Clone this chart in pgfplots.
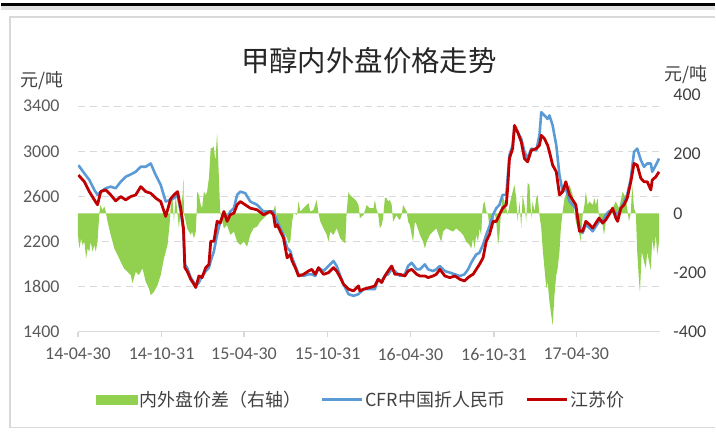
\documentclass[border=0pt]{standalone}
\usepackage{fontspec}
\setmainfont{Carlito}
\newfontfamily\cjk{Noto Sans CJK SC}
\usepackage{pgfplots}
\pgfplotsset{compat=1.18}
\definecolor{spreadgreen}{HTML}{92D050}
\definecolor{cfrblue}{HTML}{5B9BD5}
\definecolor{jsred}{HTML}{C00000}
\definecolor{gridgray}{HTML}{D9D9D9}
\definecolor{ticktext}{HTML}{595959}
\definecolor{darktext}{HTML}{404040}

% x = days since 2014-04-30
\pgfplotsset{
  set layers,
  baseaxis/.style={
    scale only axis, width=584pt, height=237.4pt,
    at={(77pt,-332.7pt)}, anchor=south west,
    xmin=0, xmax=1280,
    /pgf/number format/assume math mode=true,
    /pgf/number format/1000 sep={},
  },
}

\begin{document}
\begin{tikzpicture}[x=1pt,y=1pt]
\path (0,0) rectangle (716,-434);
\fill[black!12] (0,-6) rectangle (716,-10);
\draw[black, line width=2.5pt] (0,-4.5) -- (716,-4.5);
\draw[gridgray, line width=1.5pt] (716,-17) -- (9,-17) -- (9,-429) -- (716,-429);

% right axis: spread
\begin{axis}[baseaxis,
  ymin=-400, ymax=400, ytick={-400,-200,0,200,400},
  hide x axis, axis y line*=right,
  y axis line style={draw=none}, ytick style={draw=none},
  yticklabel style={font=\fontsize{18}{18}\selectfont, text=darktext, xshift=10pt},
]
\addplot[fill=spreadgreen, draw=none] coordinates {
(0,0)(0,-73)(3,-119)(7,-85)(10,-107)(14,-96)(18,-153)(21,-119)(25,-130)(28,-96)(32,-130)(36,-107)(39,-130)(43,-96)(47,0)(49,28)(54,11)(58,23)(61,6)(65,-28)(72,-73)(80,-119)(87,-141)(94,-164)(101,-186)(109,-198)(116,-209)(120,-237)(127,-198)(134,-209)(142,-186)(149,-232)(156,-254)(160,-277)(167,-266)(175,-243)(182,-209)(189,-153)(197,-107)(202,-28)(204,28)(208,51)(211,-28)(215,62)(219,-6)(222,-51)(226,17)(230,62)(232,119)(233,0)(237,-28)(240,-51)(244,-62)(248,-73)(251,-62)(255,-85)(259,-62)(261,0)(262,73)(266,62)(270,28)(273,17)(277,73)(281,62)(284,73)(288,119)(292,220)(295,220)(299,226)(302,175)(306,271)(310,119)(313,0)(321,-51)(328,-40)(335,-73)(343,-62)(350,-96)(357,-107)(365,-96)(372,-113)(379,-73)(386,-51)(394,-45)(401,-28)(408,-17)(416,-6)(423,0)(430,11)(434,28)(438,-28)(445,-51)(452,-62)(460,-85)(463,-102)(467,-96)(471,-28)(474,0)(482,-6)(485,40)(489,6)(496,17)(503,28)(507,34)(511,6)(518,11)(525,45)(529,0)(533,-28)(540,-51)(547,-73)(551,-96)(555,-62)(562,-73)(569,-51)(577,-85)(584,-96)(588,-102)(591,6)(595,73)(598,62)(606,51)(613,40)(617,28)(620,-17)(624,-11)(628,-6)(635,28)(642,17)(650,17)(653,45)(657,11)(660,0)(664,-51)(668,-40)(671,-17)(675,51)(679,51)(682,40)(686,45)(690,28)(693,-28)(697,-17)(701,-6)(704,-17)(708,-23)(712,-6)(715,28)(719,17)(723,6)(726,-28)(730,-40)(734,-73)(737,-96)(741,-28)(745,-40)(752,-73)(759,-96)(763,-119)(767,-96)(774,-73)(781,-62)(788,-51)(796,-85)(799,-96)(803,-62)(810,-51)(818,-57)(825,-62)(832,-51)(840,-62)(847,-73)(854,-96)(861,-107)(865,-119)(869,-85)(872,-119)(876,-73)(880,-96)(883,-51)(887,-73)(889,0)(891,28)(894,40)(898,6)(902,-6)(905,-51)(913,-40)(916,6)(920,-28)(924,-107)(927,-73)(931,17)(934,62)(938,40)(942,17)(945,-6)(949,28)(956,73)(960,96)(964,51)(967,-28)(971,40)(975,-51)(978,62)(982,28)(986,-28)(989,102)(993,96)(997,-17)(1000,40)(1004,6)(1008,51)(1011,62)(1015,-6)(1019,-51)(1022,-119)(1026,-186)(1030,-254)(1033,-232)(1037,-300)(1041,-345)(1044,-379)(1048,-277)(1052,-209)(1055,-186)(1059,-130)(1062,-51)(1066,6)(1070,51)(1073,62)(1081,96)(1088,62)(1092,0)(1095,-28)(1103,-73)(1106,-96)(1110,-6)(1114,28)(1117,73)(1121,28)(1125,40)(1132,28)(1136,51)(1139,28)(1143,51)(1146,-17)(1154,-40)(1157,-73)(1161,-28)(1168,-6)(1176,17)(1183,40)(1190,17)(1198,73)(1205,51)(1208,17)(1212,-28)(1216,6)(1219,96)(1223,17)(1227,0)(1230,-130)(1234,-232)(1236,-266)(1240,-130)(1245,-164)(1249,-186)(1252,-130)(1256,-164)(1260,-192)(1263,-85)(1267,-130)(1271,-73)(1274,-141)(1278,-96)(1278,0)
};
\end{axis}

% left axis: prices
\begin{axis}[baseaxis,
  ymin=1400, ymax=3500, ytick={1400,1800,2200,2600,3000,3400},
  axis x line*=bottom, axis y line*=left,
  y axis line style={draw=none}, ytick style={draw=none},
  x axis line style={draw=gridgray, line width=1.3pt, -},
  xtick={0,184,365,549,731,915,1096},
  xticklabels={14-04-30,14-10-31,15-04-30,15-10-31,16-04-30,16-10-31,17-04-30},
  xtick style={draw=gridgray, line width=1.2pt},
  tick align=outside, major tick length=5pt,
  ymajorgrids, grid style={gridgray, line width=1.3pt, dash pattern=on 7pt off 5pt},
  yticklabel style={font=\fontsize{18}{18}\selectfont, text=ticktext, xshift=-10pt},
  xticklabel style={font=\fontsize{18}{18}\selectfont, text=ticktext, yshift=-8pt},
  legend columns=3,
  legend style={at={(axis description cs:0.487,-0.288)}, anchor=center,
    draw=none, fill=none, font=\cjk\fontsize{18}{18}\selectfont, text=darktext,
    /tikz/every even column/.append style={column sep=18pt}},
  legend image code/.code={\draw[#1] (0pt,0pt) -- (40pt,0pt);},
]
\addlegendimage{legend image code/.code={\fill[spreadgreen] (0pt,-4.5pt) rectangle (41pt,4.5pt);}}
\addlegendentry{内外盘价差（右轴）}
\addplot[cfrblue, line width=2.6pt, line join=round] coordinates {
(1,2877)(14,2804)(25,2745)(36,2657)(43,2613)(50,2642)(61,2672)(72,2686)(83,2672)(94,2730)(105,2774)(116,2795)(127,2818)(138,2863)(149,2863)(160,2892)(171,2789)(182,2701)(193,2554)(204,2569)(211,2584)(219,2613)(226,2466)(232,2290)(235,1996)(240,1967)(248,1879)(255,1835)(259,1805)(266,1835)(273,1893)(281,1937)(288,1967)(292,2026)(299,2114)(306,2260)(313,2378)(321,2451)(328,2407)(335,2466)(343,2495)(350,2613)(357,2642)(368,2628)(379,2554)(394,2525)(408,2466)(423,2466)(430,2466)(438,2378)(445,2319)(452,2260)(460,2143)(467,2114)(471,2055)(478,1982)(485,1908)(496,1893)(507,1908)(514,1908)(522,1893)(529,1967)(540,1937)(551,1982)(562,2026)(569,1982)(577,1893)(584,1820)(595,1732)(606,1717)(617,1732)(628,1776)(642,1776)(653,1776)(660,1864)(668,1849)(675,1893)(682,1908)(690,1952)(697,1937)(708,1893)(719,1908)(726,1982)(734,2011)(745,1952)(752,1952)(763,1996)(770,1952)(781,1937)(788,1952)(796,1982)(807,1937)(818,1923)(829,1908)(840,1893)(850,1908)(858,1952)(865,2011)(869,2040)(876,2084)(883,2099)(891,2172)(898,2260)(905,2334)(913,2437)(920,2495)(927,2525)(934,2613)(942,2613)(949,2965)(956,3053)(960,3200)(967,3171)(975,3112)(982,2995)(989,2936)(997,3024)(1008,3009)(1015,3142)(1019,3347)(1026,3318)(1033,3288)(1037,3318)(1044,3230)(1052,3053)(1059,2789)(1066,2642)(1073,2672)(1081,2554)(1088,2525)(1095,2495)(1103,2319)(1110,2275)(1117,2349)(1125,2319)(1132,2290)(1139,2334)(1146,2378)(1154,2378)(1161,2437)(1168,2466)(1176,2481)(1183,2451)(1187,2422)(1194,2495)(1201,2554)(1208,2613)(1216,2760)(1223,2995)(1230,3024)(1238,2921)(1245,2862)(1252,2892)(1260,2892)(1263,2818)(1271,2877)(1278,2936)
};
\addlegendentry{CFR中国折人民币\hspace{9pt}}
\addplot[jsred, line width=2.8pt, line join=round] coordinates {
(1,2789)(14,2730)(25,2642)(36,2569)(43,2525)(50,2642)(61,2657)(72,2613)(83,2560)(94,2598)(105,2569)(116,2598)(127,2613)(138,2686)(149,2642)(160,2628)(171,2584)(182,2554)(193,2422)(204,2580)(211,2613)(219,2642)(226,2495)(232,2319)(235,1967)(240,1937)(248,1864)(255,1820)(259,1791)(266,1893)(273,1879)(281,1967)(288,1996)(292,2202)(299,2202)(306,2378)(313,2363)(321,2466)(328,2378)(335,2437)(343,2451)(350,2525)(357,2554)(368,2525)(379,2495)(394,2481)(408,2437)(423,2466)(430,2437)(434,2330)(438,2349)(445,2290)(452,2231)(460,2055)(467,2084)(471,2026)(478,1967)(485,1893)(496,1908)(507,1937)(514,1952)(522,1908)(529,1967)(540,1908)(551,1923)(562,1967)(569,1937)(577,1879)(584,1820)(595,1776)(606,1761)(617,1805)(620,1761)(628,1776)(642,1791)(653,1805)(660,1864)(668,1835)(675,1893)(682,1937)(690,1982)(697,1908)(708,1908)(719,1893)(726,1937)(734,1952)(745,1908)(752,1893)(763,1893)(770,1879)(781,1893)(788,1908)(796,1952)(807,1893)(818,1879)(829,1893)(840,1864)(850,1849)(858,1879)(865,1900)(869,1908)(876,1952)(883,1996)(891,2055)(898,2202)(905,2260)(913,2378)(920,2378)(927,2437)(934,2495)(942,2525)(945,2672)(949,2936)(956,3024)(960,3230)(967,3171)(975,3083)(982,2936)(989,2907)(997,3009)(1008,3024)(1015,3053)(1019,3142)(1026,3112)(1033,3053)(1037,2995)(1044,2877)(1052,2818)(1059,2613)(1066,2642)(1073,2730)(1081,2613)(1088,2569)(1095,2525)(1103,2290)(1110,2290)(1117,2378)(1125,2349)(1132,2319)(1139,2363)(1146,2407)(1154,2363)(1161,2393)(1168,2437)(1176,2495)(1183,2407)(1187,2378)(1194,2495)(1201,2525)(1208,2584)(1216,2730)(1223,2892)(1230,2877)(1238,2760)(1245,2730)(1252,2730)(1260,2657)(1263,2745)(1271,2774)(1278,2818)
};
\addlegendentry{江苏价}
\end{axis}

\node[font=\cjk\fontsize{28.5}{28.5}\selectfont, text=black!85] at (369,-61) {甲醇内外盘价格走势};
\node[font=\cjk\fontsize{18}{18}\selectfont, text=darktext] at (41,-81) {元/吨};
\node[font=\cjk\fontsize{18}{18}\selectfont, text=darktext] at (687,-75) {元/吨};
\end{tikzpicture}
\end{document}
